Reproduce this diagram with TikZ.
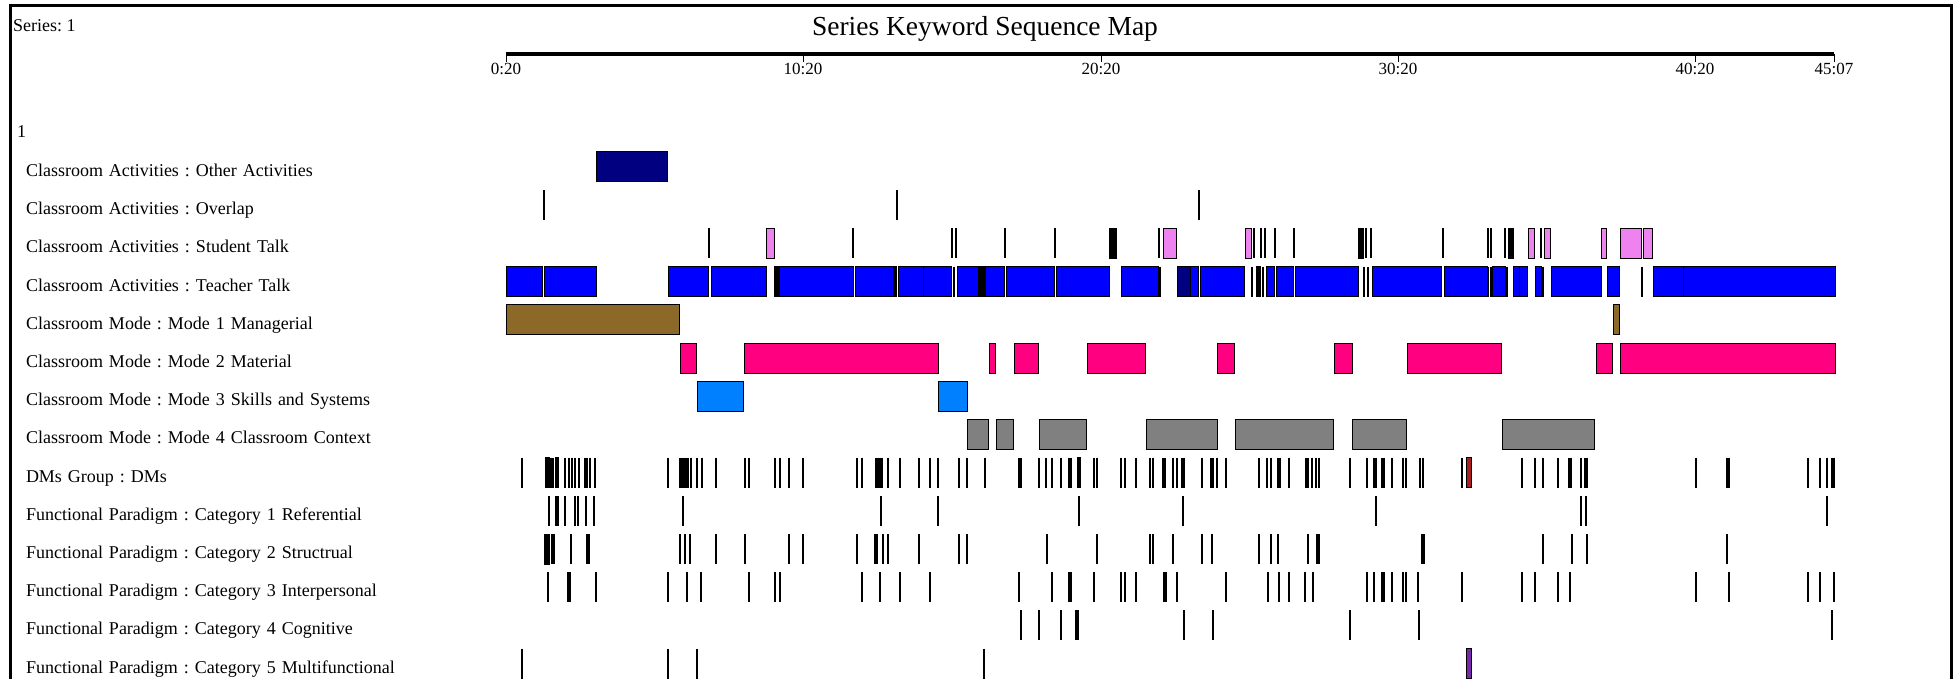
\documentclass[tikz,border=0pt]{standalone}
\usepackage{fontspec}
\setmainfont{Liberation Serif}
\frenchspacing
\definecolor{othercol}{RGB}{0,0,128}
\definecolor{studentcol}{RGB}{238,130,238}
\definecolor{teachercol}{RGB}{0,0,255}
\definecolor{managecol}{RGB}{140,105,40}
\definecolor{materialcol}{RGB}{255,0,128}
\definecolor{skillcol}{RGB}{0,128,255}
\definecolor{contextcol}{RGB}{128,128,128}
\definecolor{dmcol}{RGB}{170,30,30}
\definecolor{multicol}{RGB}{120,40,170}
\tikzset{
    rowlabel/.style = {text width=420pt, align=left, inner sep=0pt, text height=13pt, text depth=4pt, font=\fontsize{18}{20}\selectfont},
    ticklabel/.style = {anchor=north, inner sep=0pt, font=\fontsize{17}{19}\selectfont},
    evbox/.style = {draw=black, line width=1pt},
    evline/.style = {draw=black, line width=1.8pt},
    evthick/.style = {draw=black, line width=3.2pt},
    frame/.style = {draw=black, line width=3pt}
}
\newcommand{\evboxes}[3]{\foreach \a/\b in {#3} \draw[evbox, fill=#2] (\a,{152+(#1-1)*38.2}) rectangle (\b,{182+(#1-1)*38.2});}
\newcommand{\evlines}[3]{\foreach \a in {#3} \draw[#2] (\a,{152+(#1-1)*38.2}) -- (\a,{182+(#1-1)*38.2});}

\begin{document}
\begin{tikzpicture}[x=1pt, y=-1pt, node distance=38.2pt]
\useasboundingbox (0,0) rectangle (1959,679);
\draw[frame] (10,679) -- (10,6) -- (1951,6) -- (1951,679);

\node (series) [anchor=base west, inner sep=0pt, font=\fontsize{18}{20}\selectfont] at (13,31.5) {Series: 1};
\node (title) [anchor=base, inner sep=0pt, font=\fontsize{27.5}{30}\selectfont] at (985,36) {Series Keyword Sequence Map};
\node (group) [anchor=base west, inner sep=0pt, font=\fontsize{18}{20}\selectfont] at (17,138) {1};

\draw[line width=4pt] (506,54) -- (1834,54);
\foreach \x/\t in {506/0:20, 803/10:20, 1101/20:20, 1398/30:20, 1695/40:20, 1834/45:07} {
    \draw[line width=1pt] (\x,54) -- (\x,62);
    \node (t\x) [ticklabel] at (\x,63) {\t};
}

\node (other) [rowlabel] at (236,172) {Classroom Activities : Other Activities};
\node (overlap) [rowlabel, below of=other] {Classroom Activities : Overlap};
\node (student) [rowlabel, below of=overlap] {Classroom Activities : Student Talk};
\node (teacher) [rowlabel, below of=student] {Classroom Activities : Teacher Talk};
\node (mode1) [rowlabel, below of=teacher] {Classroom Mode : Mode 1 Managerial};
\node (mode2) [rowlabel, below of=mode1] {Classroom Mode : Mode 2 Material};
\node (mode3) [rowlabel, below of=mode2] {Classroom Mode : Mode 3 Skills and Systems};
\node (mode4) [rowlabel, below of=mode3] {Classroom Mode : Mode 4 Classroom Context};
\node (dms) [rowlabel, below of=mode4] {DMs Group : DMs};
\node (cat1) [rowlabel, below of=dms] {Functional Paradigm : Category 1 Referential};
\node (cat2) [rowlabel, below of=cat1] {Functional Paradigm : Category 2 Structrual};
\node (cat3) [rowlabel, below of=cat2] {Functional Paradigm : Category 3 Interpersonal};
\node (cat4) [rowlabel, below of=cat3] {Functional Paradigm : Category 4 Cognitive};
\node (cat5) [rowlabel, below of=cat4] {Functional Paradigm : Category 5 Multifunctional};

\evboxes{1}{othercol}{596/667}
\evlines{2}{evline}{544, 897, 1199}

\evlines{3}{evline}{709, 853, 952, 956, 1005, 1055, 1159, 1254, 1261, 1265, 1275, 1294, 1366, 1371, 1443, 1488, 1491, 1505, 1541}
\evboxes{3}{black}{1109/1116, 1358/1363, 1508/1513}
\evboxes{3}{studentcol}{766/774, 1163/1176, 1245/1251, 1528/1534, 1544/1550, 1601/1606, 1620/1641, 1643/1652}

\evboxes{4}{teachercol}{506/542, 544/596, 668/708, 711/766, 774/853, 855/896, 898/923, 923/951, 957/978, 985/1004, 1006/1054, 1056/1109, 1121/1158, 1177/1198, 1200/1244, 1266/1274, 1276/1293, 1295/1358, 1372/1441, 1444/1487, 1492/1505, 1513/1519, 1519/1527, 1535/1541, 1551/1601, 1607/1619, 1653/1683, 1683/1835}
\evboxes{4}{black}{774/779, 893/896, 978/985, 1256/1260}
\evboxes{4}{othercol}{1177/1190}
\evlines{4}{evline}{954, 1160, 1252, 1263, 1364, 1368, 1488, 1491, 1507, 1543, 1642}

\evboxes{5}{managecol}{506/679, 1613/1619}
\evboxes{6}{materialcol}{680/696, 744/938, 989/995, 1014/1038, 1087/1145, 1217/1234, 1334/1352, 1407/1501, 1596/1612, 1620/1835}
\evboxes{7}{skillcol}{697/743, 938/967}
\evboxes{8}{contextcol}{967/988, 996/1013, 1039/1086, 1146/1217, 1235/1333, 1352/1406, 1502/1594}

\evlines{9}{evline}{522, 551, 553, 565, 569, 572, 575, 579, 585, 587, 590, 595, 668, 680, 682, 684, 686, 688, 691, 697, 702, 716, 745, 749, 775, 780, 789, 803, 857, 862, 876, 878, 880, 882, 888, 900, 919, 930, 938, 959, 967, 985, 1039, 1046, 1052, 1061, 1094, 1097, 1121, 1125, 1136, 1150, 1153, 1173, 1177, 1202, 1217, 1226, 1259, 1267, 1271, 1289, 1306, 1308, 1312, 1316, 1319, 1350, 1367, 1392, 1403, 1406, 1420, 1423, 1462, 1522, 1535, 1543, 1558, 1581, 1696, 1727, 1729, 1808, 1820, 1827, 1832, 1834}
\evlines{9}{evthick}{1020, 1070, 1164, 1183, 1212, 1279, 1375, 1383, 1570, 1586}
\evboxes{9}{black}{545/549, 555/558, 1077/1080}
\evboxes{9}{dmcol}{1466/1471}

\evlines{10}{evline}{549, 565, 575, 578, 586, 594, 683, 881, 938, 1079, 1183, 1376, 1581, 1586, 1827}
\evlines{10}{evthick}{557}

\evlines{11}{evline}{552, 554, 571, 587, 589, 680, 685, 690, 716, 745, 789, 803, 857, 883, 888, 919, 959, 967, 1047, 1097, 1150, 1153, 1173, 1202, 1212, 1259, 1271, 1278, 1308, 1317, 1319, 1422, 1424, 1543, 1572, 1587, 1727}
\evlines{11}{evthick}{876}
\evboxes{11}{black}{544/549}

\evlines{12}{evline}{548, 596, 668, 687, 701, 749, 775, 780, 862, 880, 900, 930, 1019, 1052, 1094, 1121, 1125, 1136, 1177, 1226, 1268, 1279, 1289, 1305, 1313, 1367, 1374, 1392, 1403, 1406, 1418, 1462, 1522, 1535, 1558, 1570, 1696, 1729, 1808, 1820, 1834}
\evlines{12}{evthick}{569, 1070, 1165, 1383}

\evlines{13}{evline}{1021, 1039, 1061, 1184, 1213, 1350, 1419, 1832}
\evlines{13}{evthick}{1077}

\evlines{14}{evline}{522, 668, 697, 984}
\evboxes{14}{multicol}{1466/1471}
\end{tikzpicture}
\end{document}
